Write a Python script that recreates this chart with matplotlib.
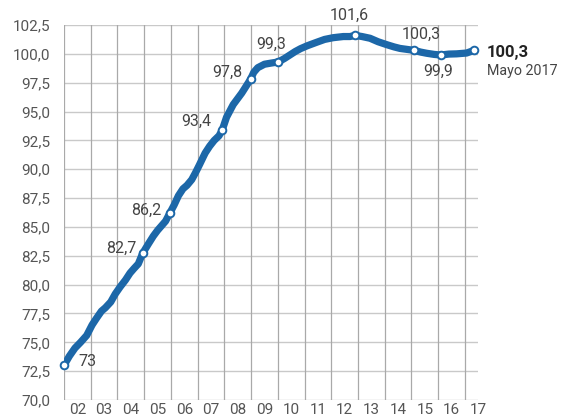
import matplotlib
matplotlib.use('Agg')
import matplotlib.pyplot as plt

# monthly index, decimal years
t = [2002.00, 2002.20, 2002.41, 2002.62, 2002.85, 2003.05, 2003.22, 2003.40, 2003.55, 2003.75,
     2003.92, 2004.10, 2004.30, 2004.47, 2004.62, 2004.78, 2004.94, 2005.15, 2005.34, 2005.50,
     2005.65, 2005.80, 2005.96, 2006.12, 2006.28, 2006.45, 2006.60, 2006.78, 2006.92, 2007.05,
     2007.28, 2007.45, 2007.62, 2007.80, 2007.92, 2008.08, 2008.33, 2008.65, 2008.98, 2009.10,
     2009.25, 2009.50, 2009.75, 2010.02, 2010.25, 2010.45, 2010.65, 2010.85, 2011.10, 2011.45,
     2011.75, 2012.07, 2012.45, 2012.70, 2012.89, 2013.15, 2013.45, 2013.75, 2014.07, 2014.35,
     2014.57, 2014.85, 2015.10, 2015.35, 2015.57, 2015.85, 2016.09, 2016.40, 2016.69, 2017.06,
     2017.34]
index = [73.0, 73.8, 74.5, 75.0, 75.6, 76.5, 77.1, 77.7, 78.0, 78.5,
         79.2, 79.8, 80.4, 81.0, 81.4, 81.8, 82.7, 83.5, 84.2, 84.7,
         85.1, 85.5, 86.2, 86.9, 87.7, 88.3, 88.6, 89.1, 89.7, 90.3,
         91.4, 92.0, 92.5, 92.9, 93.4, 94.5, 95.6, 96.6, 97.8, 98.4,
         98.8, 99.1, 99.2, 99.3, 99.6, 99.9, 100.2, 100.45, 100.7, 101.0,
         101.25, 101.4, 101.5, 101.5, 101.6, 101.5, 101.35, 101.05, 100.8, 100.6,
         100.47, 100.38, 100.3, 100.15, 100.05, 99.95, 99.9, 99.98, 100.0, 100.07,
         100.3]

# labelled points: (position in t/index, label text, offset in points)
marked = [0, 16, 22, 34, 38, 43, 54, 62, 66]
marked_labels = ['73', '82,7', '86,2', '93,4', '97,8', '99,3', '101,6', '100,3', '99,9']
marked_offsets = [(17, 3), (-15, 4), (-17, 2), (-19, 6), (-17, 5), (-5, 13), (-4, 14.5), (5, 11.5), (-1.5, -12)]

years = list(range(2002, 2018))
year_labels = ['02', '03', '04', '05', '06', '07', '08', '09', '10', '11', '12', '13', '14', '15', '16', '17']
y_ticks = [70.0, 72.5, 75.0, 77.5, 80.0, 82.5, 85.0, 87.5, 90.0, 92.5, 95.0, 97.5, 100.0, 102.5]
y_tick_labels = ['70,0', '72,5', '75,0', '77,5', '80,0', '82,5', '85,0', '87,5', '90,0', '92,5',
                 '95,0', '97,5', '100,0', '102,5']

blue = '#1c67a8'
plt.rcParams['font.family'] = ['Roboto', 'DejaVu Sans']

fig = plt.figure(figsize=(5.63, 4.19), dpi=100)
ax = fig.add_axes([64 / 563, 1 - 400 / 419, 414.3 / 563, 375 / 419])

ax.set_xlim(2002, 2017.5)
ax.set_ylim(70, 102.5)

for y in y_ticks:
    ax.axhline(y, color='#c9c9c9', lw=1.0, zorder=1)
for x in years:
    ax.axvline(x, color='#a9a9a9', lw=0.9, zorder=1)

ax.plot(t, index, color=blue, lw=5.2, solid_capstyle='round', solid_joinstyle='round', zorder=3)
mx = [t[i] for i in marked] + [t[-1]]
my = [index[i] for i in marked] + [index[-1]]
ax.plot(mx, my, ls='none', marker='o', ms=5.5, mfc='white', mec=blue, mew=1.4, zorder=4, clip_on=False)

for i, lab, off in zip(marked, marked_labels, marked_offsets):
    ax.annotate(lab, (t[i], index[i]), xytext=off, textcoords='offset points',
                ha='center', va='center', fontsize=11.5, color='#444444')

ax.annotate('100,3', (t[-1], index[-1]), xytext=(9, -1.4), textcoords='offset points',
            ha='left', va='center', fontsize=12, fontweight='bold', color='#222222',
            annotation_clip=False)
ax.annotate('Mayo 2017', (t[-1], index[-1]), xytext=(9, -14.5), textcoords='offset points',
            ha='left', va='center', fontsize=10.3, color='#444444', annotation_clip=False)

ax.set_yticks(y_ticks)
ax.set_yticklabels(y_tick_labels)
ax.set_xticks(years)
ax.set_xticklabels([])
ax.set_xticks([y + 0.5 for y in years], minor=True)
ax.set_xticklabels(year_labels, minor=True)
ax.tick_params(axis='both', which='both', length=0, labelsize=11, colors='#555555')
ax.tick_params(axis='y', pad=10)
ax.tick_params(axis='x', which='minor', pad=2)
for s in ax.spines.values():
    s.set_visible(False)

fig.savefig('out.png', dpi=100)
